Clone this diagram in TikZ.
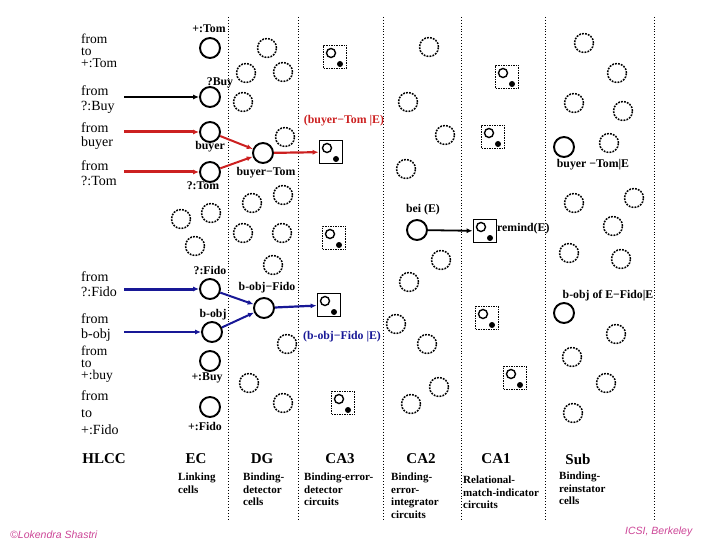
\documentclass[tikz,border=0pt]{standalone}
\usepackage{fontspec}
\setmainfont{Liberation Serif}
\newfontfamily\footfont{Liberation Sans}
\usetikzlibrary{arrows.meta}
\definecolor{cred}{RGB}{204,32,32}
\definecolor{cblue}{RGB}{24,24,150}
\definecolor{cpink}{RGB}{204,68,150}
\tikzset{
 sc/.style={circle,draw,line width=1.9pt,minimum size=20pt,inner sep=0},
 dc/.style={circle,draw,line width=1.5pt,dash pattern=on 1.8pt off 1.2pt,minimum size=19pt,inner sep=0},
 sqs/.style={draw,line width=1.8pt,minimum size=23pt,inner sep=0},
 sqd/.style={draw,line width=1.5pt,dash pattern=on 1.5pt off 1pt,minimum size=23pt,inner sep=0},
 lbl/.style={font=\fontsize{11.8}{11.8}\selectfont\bfseries,inner sep=0},
 lt/.style={font=\fontsize{14}{14}\selectfont,inner sep=0,anchor=west,text height=8.3pt,text depth=2.5pt},
 lts/.style={lt,font=\fontsize{13.5}{13.5}\selectfont},
 hdr/.style={font=\fontsize{15}{15}\selectfont\bfseries,inner sep=0},
 desc/.style={font=\fontsize{11}{12.5}\selectfont\bfseries,inner sep=0,anchor=north west,align=left},
 divider/.style={dotted,line width=0.9pt},
 tip/.style={-{Latex[length=6pt,width=5pt]}},
 foot/.style={font=\footfont\itshape\fontsize{10.5}{10.5}\selectfont,text=cpink,inner sep=0},
}
\newcommand\cellsq[3]{\node[#3] (#1) at (#2) {};
 \draw[line width=1.4pt] ([shift={(-4pt,4pt)}]#1.center) circle (4.5pt);
 \fill ([shift={(5pt,-7pt)}]#1.center) circle (3pt);}
\begin{document}
\begin{tikzpicture}[x=1pt,y=-1pt]
\useasboundingbox (0,0) rectangle (720,540);
% dividers
\foreach \xx in {228,298,383,461,545,654} \draw[divider] (\xx,17) -- (\xx,520);
% left texts
\node[lts] (t1a) at (81,41) {from};
\node[lts] (t1b) at (81,53) {to};
\node[lts] (t1c) at (81,65) {+:Tom};
\node[lt] (t2a) at (81,93) {from};
\node[lt] (t2b) at (81,108) {?:Buy};
\node[lt] (t3a) at (81,130) {from};
\node[lt] (t3b) at (81,144) {buyer};
\node[lt] (t4a) at (81,168) {from};
\node[lt] (t4b) at (81,183) {?:Tom};
\node[lt] (t5a) at (81,279) {from};
\node[lt] (t5b) at (81,294) {?:Fido};
\node[lt] (t6a) at (81,321) {from};
\node[lt] (t6b) at (81,336) {b-obj};
\node[lts] (t7a) at (81,353) {from};
\node[lts] (t7b) at (81,365) {to};
\node[lts] (t7c) at (81,377) {+:buy};
\node[lt] (t8a) at (81,398) {from};
\node[lt] (t8b) at (81,415) {to};
\node[lt] (t8c) at (81,432) {+:Fido};
% EC solid circles
\node[sc] (pTom) at (210,48) {};
\node[sc] (qBuy) at (210,97) {};
\node[sc] (buyer) at (210,132) {};
\node[sc] (qTom) at (210,172) {};
\node[sc] (qFido) at (210,289) {};
\node[sc] (bobj) at (212,332) {};
\node[sc] (pBuy) at (210,361) {};
\node[sc] (pFido) at (210,407) {};
% DG solid
\node[sc] (bT) at (263,153) {};
\node[sc] (bF) at (264,308) {};
% CA2 solid
\node[sc] (bei) at (417,230) {};
% Sub solid
\node[sc] (sub1) at (564,147) {};
\node[sc] (sub2) at (564,313) {};
% dashed circles
\foreach \x/\y [count=\i] in {181/219,211/213,195/246,
 267/48,246/73,283/72,243/102,285/137,252/203,283/195,243/233,282/233,273/265,287/344,249/383,283/403,
 429/47,408/102,445/135,406/169,441/260,409/282,396/324,427/344,439/387,411/404,
 584/43,617/73,574/103,623/111,609/143,574/203,634/198,613/226,569/253,621/259,616/334,572/357,606/383,573/413}
 \node[dc] (d\i) at (\x,\y) {};
% squares
\cellsq{q1}{335,57}{sqd}
\cellsq{sqBT}{331,152}{sqs}
\cellsq{q2}{334,238}{sqd}
\cellsq{sqBF}{329,305}{sqs}
\cellsq{q3}{343,403}{sqd}
\cellsq{q4}{507,77}{sqd}
\cellsq{q5}{493,137}{sqd}
\cellsq{rem}{485,231}{sqs}
\cellsq{q6}{487,318}{sqd}
\cellsq{q7}{515,378}{sqd}
% labels
\node[lbl] (l1) at (209,29) {+:Tom};
\node[lbl] (l2) at (220,83) {?Buy};
\node[lbl] (l3) at (210,147) {buyer};
\node[lbl] (l4) at (266,173) {buyer−Tom};
\node[lbl] (l5) at (203,186) {?:Tom};
\node[lbl] (l6) at (210,270) {?:Fido};
\node[lbl] (l7) at (267,288) {b-obj−Fido};
\node[lbl] (l8) at (213,315) {b-obj};
\node[lbl] (l9) at (207,378) {+:Buy};
\node[lbl] (l10) at (205,426) {+:Fido};
\node[lbl,text=cred] (l11) at (344,121) {(buyer−Tom |E)};
\node[lbl,text=cblue] (l12) at (342,337) {(b-obj−Fido |E)};
\node[lbl] (l13) at (423,210) {bei (E)};
\node[lbl,anchor=west] (l14) at (497,229) {remind(E)};
\node[lbl] (l15) at (593,165) {buyer −Tom|E};
\node[lbl] (l16) at (608,296) {b-obj of E−Fido|E};
% arrows
\coordinate (sBuy) at (124,97);
\coordinate (sBuyer) at (124,132);
\coordinate (sTom) at (124,172);
\coordinate (sFido) at (124,289);
\coordinate (sBobj) at (124,332);
\draw[tip,line width=1.8pt] (sBuy) -- (qBuy);
\draw[tip,cred,line width=3pt] (sBuyer) -- (buyer);
\draw[tip,cred,line width=3pt] (sTom) -- (qTom);
\draw[tip,cred,line width=2pt] (buyer) -- (bT);
\draw[tip,cred,line width=2pt] (qTom) -- (bT);
\draw[tip,cred,line width=2.2pt] (bT) -- (sqBT);
\draw[tip,cblue,line width=3pt] (sFido) -- (qFido);
\draw[tip,cblue,line width=2.4pt] (sBobj) -- (bobj);
\draw[tip,cblue,line width=2pt] (qFido) -- (bF);
\draw[tip,cblue,line width=2pt] (bobj) -- (bF);
\draw[tip,cblue,line width=2.2pt] (bF) -- (sqBF);
\draw[tip,line width=1.8pt] (bei) -- (rem);
% headers
\node[hdr] (h0) at (104,459) {HLCC};
\node[hdr] (h1) at (196,459) {EC};
\node[hdr] (h2) at (262,459) {DG};
\node[hdr] (h3) at (340,459) {CA3};
\node[hdr] (h4) at (421,459) {CA2};
\node[hdr] (h5) at (496,459) {CA1};
\node[hdr] (h6) at (578,459) {Sub};
\node[desc] (e1) at (178,473) {Linking\\cells};
\node[desc] (e2) at (243,473) {Binding-\\detector\\cells};
\node[desc] (e3) at (304,473) {Binding-error-\\detector\\circuits};
\node[desc] (e4) at (391,473) {Binding-\\error-\\integrator\\circuits};
\node[desc] (e5) at (463,476) {Relational-\\match-indicator\\circuits};
\node[desc] (e6) at (559,472) {Binding-\\reinstator\\cells};
% footer
\node[foot,anchor=west] (f1) at (10,535) {©Lokendra Shastri};
\node[foot,anchor=west] (f2) at (625,532) {ICSI, Berkeley};
\end{tikzpicture}
\end{document}
